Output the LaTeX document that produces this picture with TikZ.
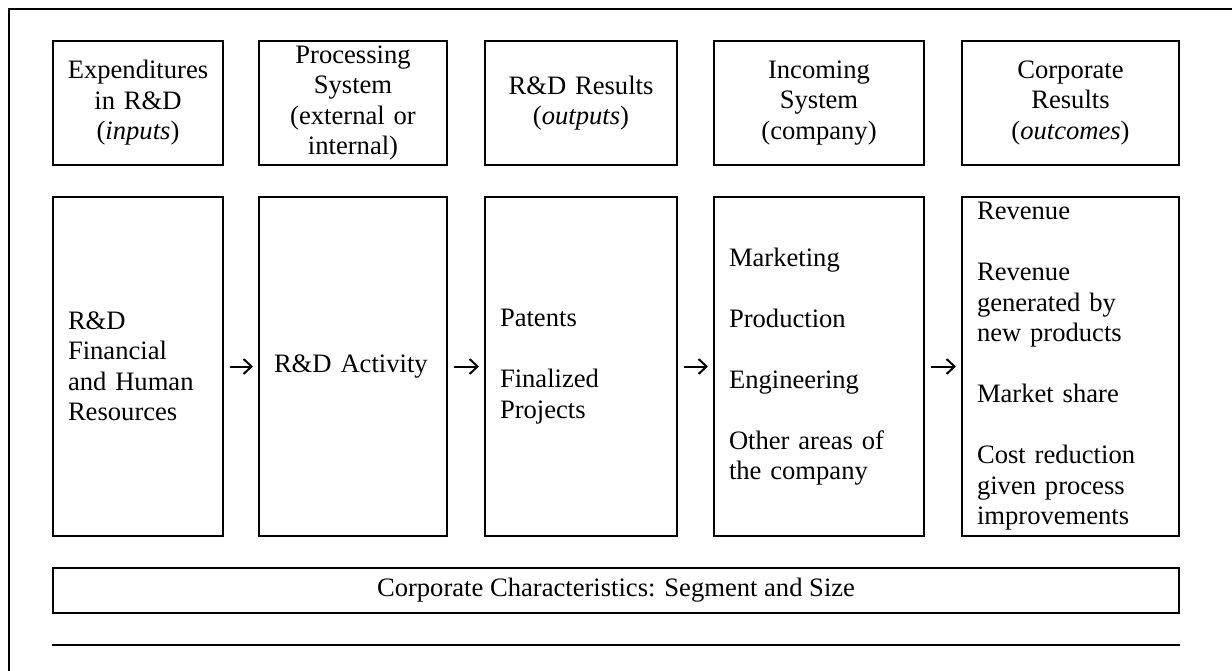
\documentclass[tikz,border=0pt]{standalone}
\usepackage{fontspec}
\setmainfont{Liberation Serif}
\usetikzlibrary{arrows.meta}
\begin{document}
\begin{tikzpicture}[x=1pt, y=-1pt, font=\fontsize{26.6}{30.5}\selectfont, every node/.style={draw, line width=1.8pt, outer sep=0pt, inner ysep=0pt}, head/.style={minimum height=124pt, align=center, inner xsep=5pt}, body/.style={minimum height=339pt, align=left, inner xsep=15pt}, arr/.style={-{Straight Barb[length=8pt, width=15pt]}, line width=2pt, shorten <=8pt, shorten >=6pt}, line join=miter, line cap=rect]

	\useasboundingbox (0, 0) rectangle (1232, 671);
	\draw[line width=2pt] (9, 671) -- (9, 9) -- (1232, 9);

	% Hàng tiêu đề
	\node[head, minimum width=170pt, text width=160pt] (inputs) at (138, 103) {Expenditures\\in R\&D\\(\textit{inputs})};
	\node[head, minimum width=188pt, text width=178pt] (process) at (353, 103) {Processing\\System\\(external or\\internal)};
	\node[head, minimum width=192pt, text width=182pt] (outputs) at (581, 103) {R\&D Results\\(\textit{outputs})};
	\node[head, minimum width=210pt, text width=200pt] (incoming) at (819, 103) {Incoming\\System\\(company)};
	\node[head, minimum width=217pt, text width=207pt] (outcomes) at (1070.5, 103) {Corporate\\Results\\(\textit{outcomes})};

	% Hàng nội dung
	\node[body, minimum width=170pt, text width=140pt] (resources) at (138, 366.5) {R\&D\\Financial\\and Human\\Resources};
	\node[body, minimum width=188pt, text width=158pt] (activity) at (353, 366.5) {R\&D Activity};
	\node[body, minimum width=192pt, text width=162pt] (patents) at (581, 366.5) {Patents\\[30.5pt]Finalized\\Projects};
	\node[body, minimum width=210pt, text width=180pt] (areas) at (819, 366.5) {Marketing\\[30.5pt]Production\\[30.5pt]Engineering\\[30.5pt]Other areas of\\the company};
	\node[body, minimum width=217pt, text width=187pt] (revenue) at (1070.5, 366.5) {Revenue\\[30.5pt]Revenue\\generated by\\new products\\[30.5pt]Market share\\[30.5pt]Cost reduction\\given process\\improvements};
	\draw[arr] (resources) -- (activity);
	\draw[arr] (activity) -- (patents);
	\draw[arr] (patents) -- (areas);
	\draw[arr] (areas) -- (revenue);

	% Đặc điểm công ty
	\node[minimum width=1126pt, minimum height=45pt, inner sep=0pt] (corp) at (616, 590.5) {Corporate Characteristics: Segment and Size};
	\draw[line width=1.8pt] (53, 645) -- (1179, 645);
\end{tikzpicture}
\end{document}
